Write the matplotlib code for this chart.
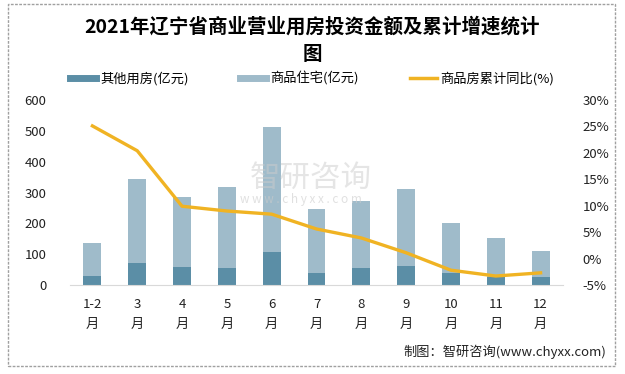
import matplotlib.pyplot as plt
import numpy as np
from matplotlib.lines import Line2D
from matplotlib.patches import Rectangle

plt.rcParams['font.family'] = ['Noto Sans CJK SC', 'DejaVu Sans']

months = ['1-2\n月', '3\n月', '4\n月', '5\n月', '6\n月', '7\n月', '8\n月', '9\n月', '10\n月', '11\n月', '12\n月']
other_use = [30, 71, 58, 55, 107, 39, 55, 62, 39, 26, 26]
residential = [106, 273, 227, 263, 405, 207, 217, 249, 162, 126, 84]
growth = [25.1, 20.4, 9.9, 9.0, 8.4, 5.6, 3.9, 1.1, -2.2, -3.3, -2.7]

dark = '#5B8EA6'
light = '#9FBBCA'
orange = '#F0B323'

fig = plt.figure(figsize=(6.25, 3.74), dpi=100)
ax = fig.add_axes([70/625, 1 - 285/374, 493/625, 185/374])
x = np.arange(len(months))
ax.bar(x, other_use, width=0.4, color=dark, zorder=2)
ax.bar(x, residential, width=0.4, bottom=other_use, color=light, zorder=2)
ax.set_ylim(0, 600)
ax.set_xlim(-0.5, len(months) - 0.5)
ax.set_yticks(range(0, 601, 100))
ax.set_xticks(x)
ax.set_xticklabels(months, linespacing=1.7)
ax.tick_params(axis='both', length=0, labelsize=9.5, colors='#222222')
ax.tick_params(axis='x', pad=9)
ax.tick_params(axis='y', pad=17)
for s in ['top', 'right', 'left']:
    ax.spines[s].set_visible(False)
ax.spines['bottom'].set_color('#D9D9D9')

ax2 = ax.twinx()
ax2.plot(x, growth, color=orange, lw=2.4, zorder=3)
ax2.set_ylim(-5, 30)
ax2.set_yticks(range(-5, 31, 5))
ax2.set_yticklabels([f'{v}%' for v in range(-5, 31, 5)])
ax2.tick_params(axis='y', length=0, labelsize=9.5, colors='#222222', pad=14)
for s in ['top', 'right', 'left', 'bottom']:
    ax2.spines[s].set_visible(False)

fig.text(0.5, 1 - 40/374, '2021年辽宁省商业营业用房投资金额及累计增速统计\n图',
         ha='center', va='center', fontsize=14, fontweight='bold', linespacing=1.55)

handles = [Line2D([0], [0], color=dark, lw=5),
           Line2D([0], [0], color=light, lw=5),
           Line2D([0], [0], color=orange, lw=2.5)]
labels = ['其他用房(亿元)', '商品住宅(亿元)', '商品房累计同比(%)']
fig.legend(handles, labels, loc='center', bbox_to_anchor=(312/625, 1 - 79/374), ncol=3,
           frameon=False, fontsize=9.5, handlelength=2.0, handletextpad=0.3,
           columnspacing=3.9)

fig.text(250/625, 1 - 178/374, '智研咨询', fontsize=22, color='#CCCCCC', alpha=0.5,
         ha='left', va='center')
fig.text(240/625, 1 - 199/374, 'w w w . c h y x x . c o m', fontsize=8.5, color='#CCCCCC',
         alpha=0.6, ha='left', va='center')

fig.text(606/625, 1 - 352/374, '制图：智研咨询(www.chyxx.com)', ha='right', va='center',
         fontsize=9.5, color='#222222')

fig.patches.append(Rectangle((8/625, 1 - 366/374), 607/625, 362/374, transform=fig.transFigure,
                             fill=False, edgecolor='#A0A0A0', lw=1, ls=(0, (2, 1))))

fig.savefig('out.png', dpi=100)
